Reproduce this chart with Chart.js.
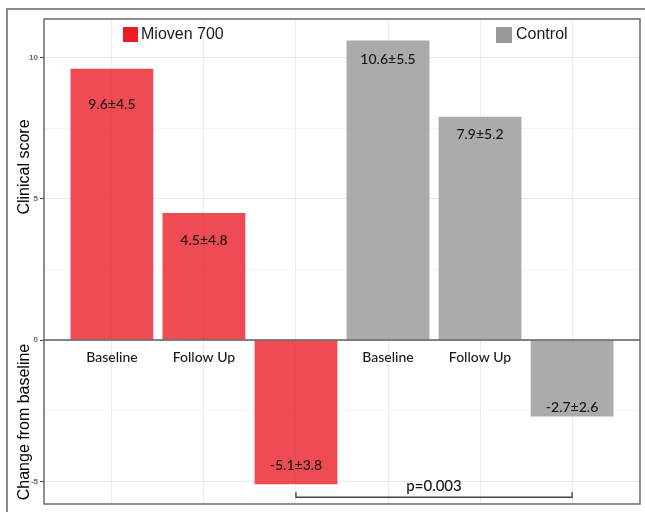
<!DOCTYPE html>
<html><head><meta charset="utf-8">
<script src="https://cdn.jsdelivr.net/npm/chart.js@4"></script>
<style>html,body{margin:0;padding:0;background:#fff;overflow:hidden}#wrap{width:645px;height:512px;position:relative}</style>
</head><body><div id="wrap"><canvas id="c" width="645" height="512"></canvas></div>
<script>
// ---- data ----
const categories = ["Baseline", "Follow Up", "Change", "Baseline", "Follow Up", "Change"];
const categoryLabels = ["Baseline", "Follow Up", "", "Baseline", "Follow Up", ""];
const seriesNames = ["Mioven 700", "Control"];
const miovenValues = [9.6, 4.5, -5.1];
const controlValues = [10.6, 7.9, -2.7];
const miovenLabels = ["9.6±4.5", "4.5±4.8", "-5.1±3.8"];
const controlLabels = ["10.6±5.5", "7.9±5.2", "-2.7±2.6"];
const yTickValues = [-5, -2.5, 0, 2.5, 5, 7.5, 10];
const yTickLabels = ["-5", "", "0", "", "5", "", "10"];
const axisTitles = ["Clinical score", "Change from baseline"];
const pValueText = "p=0.003";

// ---- style ----
const red = "rgba(236,40,50,0.84)";
const gray = "#ababab";
const labelOffsets = [[36, 28, 19], [19.5, 18, 9]];
const humanist = "Lato, 'Open Sans', sans-serif";

const miovenData = miovenValues.map((v, i) => ({x: i + 1, y: v}));
const controlData = controlValues.map((v, i) => ({x: i + 4, y: v}));

const overlay = {
  id: 'overlay',
  afterDatasetsDraw(chart) {
    const ctx = chart.ctx, ca = chart.chartArea;
    const xs = chart.scales.x, ys = chart.scales.y;
    const y0 = ys.getPixelForValue(0);
    ctx.save();
    // zero line
    ctx.strokeStyle = '#5c5c5c'; ctx.lineWidth = 1.6;
    ctx.beginPath(); ctx.moveTo(ca.left, y0); ctx.lineTo(ca.right, y0); ctx.stroke();
    // bar value labels
    ctx.fillStyle = '#151515';
    ctx.font = "500 14px " + humanist;
    ctx.textAlign = 'center'; ctx.textBaseline = 'middle';
    const lbls = [miovenLabels, controlLabels];
    chart.data.datasets.forEach((ds, di) => {
      const meta = chart.getDatasetMeta(di);
      meta.data.forEach((el, i) => {
        const v = ds.data[i].y;
        const off = labelOffsets[di][i];
        const ty = v >= 0 ? el.y + off : el.y - off;
        ctx.fillText(lbls[di][i], el.x, ty);
      });
    });
    // category labels
    ctx.fillStyle = '#1a1a1a';
    categoryLabels.forEach((t, i) => {
      if (!t) return;
      ctx.fillText(t, xs.getPixelForValue(i + 1), y0 + 17);
    });
    // bracket
    const bx1 = xs.getPixelForValue(3), bx2 = xs.getPixelForValue(6);
    const by = ys.getPixelForValue(-5.56), bt = ys.getPixelForValue(-5.38);
    ctx.strokeStyle = '#444'; ctx.lineWidth = 1.4;
    ctx.beginPath(); ctx.moveTo(bx1, bt); ctx.lineTo(bx1, by); ctx.lineTo(bx2, by); ctx.lineTo(bx2, bt); ctx.stroke();
    ctx.fillStyle = '#151515';
    ctx.font = "500 15px " + humanist;
    ctx.fillText(pValueText, (bx1 + bx2) / 2, by - 11);
    // legend
    ctx.textAlign = 'left';
    ctx.font = "16px 'Liberation Sans', Arial, sans-serif";
    ctx.fillStyle = '#ed1c24'; ctx.fillRect(123, 27, 15, 15);
    ctx.fillStyle = '#1a1a1a'; ctx.fillText(seriesNames[0], 141, 35);
    ctx.fillStyle = '#999'; ctx.fillRect(496, 27, 16, 16);
    ctx.fillStyle = '#1a1a1a'; ctx.fillText(seriesNames[1], 516, 35);
    // axis titles
    ctx.font = "16px 'Liberation Sans', Arial, sans-serif";
    ctx.fillStyle = '#000'; ctx.textAlign = 'center';
    [[axisTitles[0], 167], [axisTitles[1], 422]].forEach(([t, yy]) => {
      ctx.save(); ctx.translate(25, yy); ctx.rotate(-Math.PI / 2); ctx.fillText(t, 0, 0); ctx.restore();
    });
    // panel border
    ctx.strokeStyle = '#6a6a6a'; ctx.lineWidth = 1.5;
    ctx.strokeRect(ca.left, ca.top, ca.right - ca.left, ca.bottom - ca.top);
    // outer border
    ctx.strokeStyle = '#8a8a8a'; ctx.lineWidth = 2;
    ctx.strokeRect(7, 9, 700, 600);
    ctx.restore();
  }
};

new Chart(document.getElementById('c'), {
  type: 'bar',
  data: {
    datasets: [
      {label: seriesNames[0], data: miovenData, backgroundColor: red, borderWidth: 0,
       barPercentage: 0.9, categoryPercentage: 1.0},
      {label: seriesNames[1], data: controlData, backgroundColor: gray, borderWidth: 0,
       barPercentage: 0.9, categoryPercentage: 1.0}
    ]
  },
  options: {
    responsive: false, animation: false, devicePixelRatio: 1,
    layout: {padding: {top: 19, right: 5, bottom: 8, left: 0}},
    plugins: {legend: {display: false}, tooltip: {enabled: false}},
    scales: {
      x: {
        type: 'linear', min: 0.262, max: 6.738, stacked: true, offset: false,
        afterBuildTicks: s => { s.ticks = categories.map((c, i) => ({value: i + 1})); },
        afterFit: s => { s.height = 0; },
        ticks: {display: false},
        grid: {color: '#ececec', lineWidth: 1, drawTicks: false, offset: false},
        border: {display: false}
      },
      y: {
        min: -5.8, max: 11.36, stacked: false,
        afterBuildTicks: s => { s.ticks = yTickValues.map(v => ({value: v})); },
        afterFit: s => { s.width = 44; },
        ticks: {
          font: {family: "'Liberation Sans', Arial, sans-serif", size: 8, weight: 'bold'},
          color: '#666', padding: 2,
          callback: (v) => { const i = yTickValues.indexOf(v); return i >= 0 ? yTickLabels[i] : ''; }
        },
        grid: {
          color: c => (yTickLabels[yTickValues.indexOf(c.tick.value)] ? '#e9e9e9' : '#f4f4f4'),
          lineWidth: 1, tickLength: 4,
          tickColor: c => (yTickLabels[yTickValues.indexOf(c.tick.value)] ? '#444' : 'rgba(0,0,0,0)')
        },
        border: {display: false}
      }
    }
  },
  plugins: [overlay]
});
</script></body></html>
